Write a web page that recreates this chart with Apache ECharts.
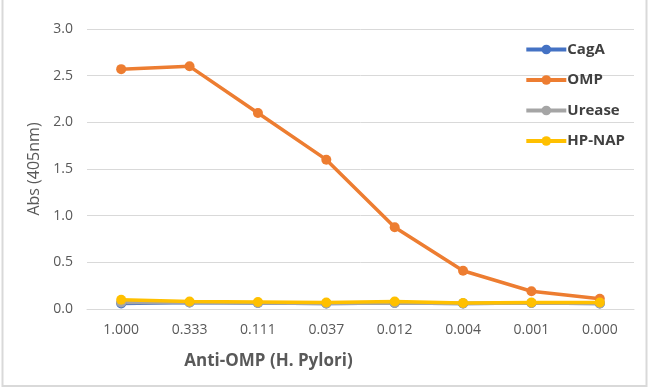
<!DOCTYPE html>
<html><head><meta charset="utf-8">
<script src="https://cdn.jsdelivr.net/npm/echarts@6/dist/echarts.min.js"></script>
<style>html,body{margin:0;padding:0;background:#fff}#c{width:650px;height:391px}</style>
</head><body><div id="c"></div>
<script>
const categories = ['1.000','0.333','0.111','0.037','0.012','0.004','0.001','0.000'];
const cagA   = [0.06, 0.07, 0.065, 0.06, 0.065, 0.06, 0.065, 0.06];
const omp    = [2.57, 2.60, 2.10, 1.60, 0.875, 0.41, 0.19, 0.11];
const urease = [0.07, 0.07, 0.065, 0.06, 0.065, 0.06, 0.065, 0.06];
const hpnap  = [0.10, 0.08, 0.075, 0.07, 0.08, 0.065, 0.07, 0.07];
const names = ['CagA','OMP','Urease','HP-NAP'];
const colors = ['#4472C4','#ED7D31','#A5A5A5','#FFC000'];
const seriesData = [cagA, omp, urease, hpnap];

const chart = echarts.init(document.getElementById('c'));
chart.setOption({
  animation: false,
  backgroundColor: '#fff',
  color: colors,
  grid: {left: 87, right: 16, top: 29, bottom: 82, containLabel: false},
  legend: {
    orient: 'vertical', right: 20, top: 37,
    itemWidth: 40, itemHeight: 12, itemGap: 15.5,
    lineStyle: {width: 4},
    textStyle: {fontFamily: 'Open Sans', fontSize: 15, fontWeight: 'bold', color: '#404040', padding: [0,0,0,-4]},
    data: names
  },
  xAxis: {
    type: 'category', data: categories, boundaryGap: true,
    axisLine: {lineStyle: {color: '#d9d9d9', width: 1}},
    axisTick: {show: false},
    axisLabel: {color: '#595959', fontFamily: 'Open Sans', fontSize: 14, margin: 14},
    name: 'Anti-OMP (H. Pylori)', nameLocation: 'middle', nameGap: 44,
    nameTextStyle: {fontFamily: 'Open Sans', fontSize: 17, fontWeight: 'bold', color: '#595959', padding: [0,184,0,0]}
  },
  yAxis: {
    type: 'value', min: 0, max: 3, interval: 0.5,
    axisLine: {show: false}, axisTick: {show: false},
    splitLine: {lineStyle: {color: '#d9d9d9', width: 1}},
    axisLabel: {color: '#595959', fontFamily: 'Open Sans', fontSize: 14, margin: 14, formatter: v => v.toFixed(1)},
    name: 'Abs (405nm)', nameLocation: 'middle', nameGap: 43, nameRotate: 90,
    nameTextStyle: {fontFamily: 'Open Sans', fontSize: 16, color: '#595959'}
  },
  series: names.map((n,i) => ({
    name: n, type: 'line', data: seriesData[i],
    symbol: 'circle', symbolSize: 10,
    lineStyle: {width: 3.5, color: colors[i]},
    itemStyle: {color: colors[i]},
    z: i === 3 ? 5 : 2
  })),
  graphic: [{type: 'rect', shape: {x: 2.5, y: -2, width: 644, height: 388}, style: {fill: 'none', stroke: '#d9d9d9', lineWidth: 2}, silent: true}]
});
</script></body></html>
